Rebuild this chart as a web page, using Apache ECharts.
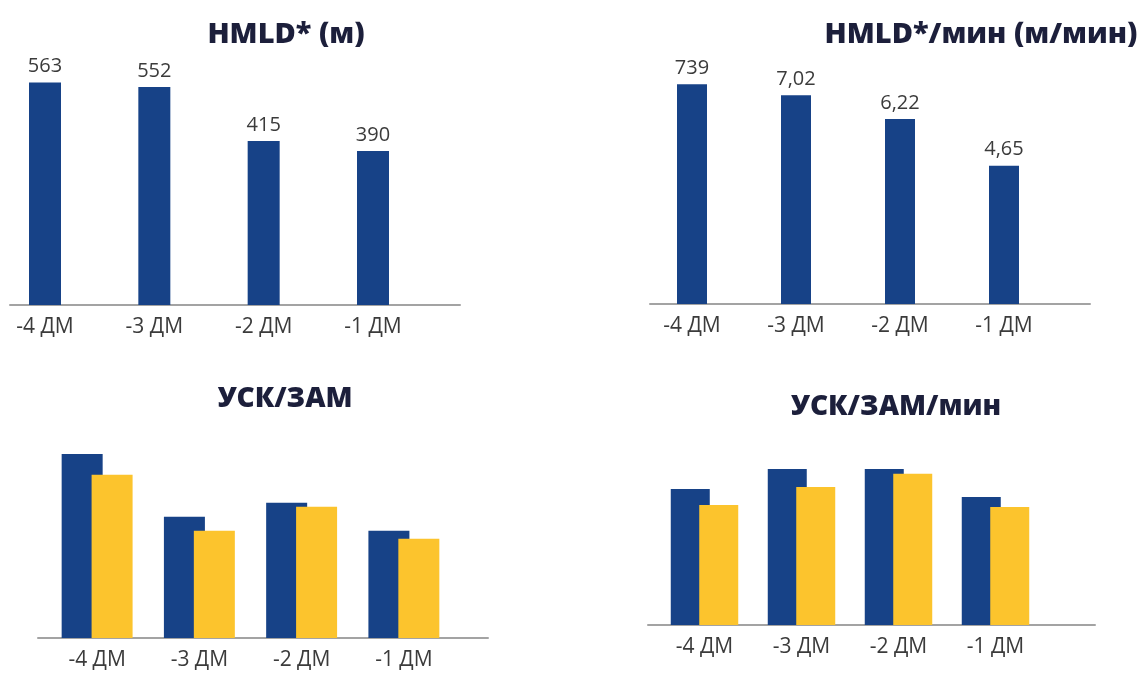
<!DOCTYPE html>
<html>
<head>
<meta charset="utf-8">
<script src="https://cdn.jsdelivr.net/npm/echarts@6/dist/echarts.min.js"></script>
<style>
  html, body { margin: 0; padding: 0; background: #ffffff; }
  #chart { width: 1143px; height: 674px; }
</style>
</head>
<body>
<div id="chart"></div>
<script>
// Match-day categories (days before the match)
const categories = ['-4 ДМ', '-3 ДМ', '-2 ДМ', '-1 ДМ'];

// HMLD* distance, metres
const hmldValues = [563, 552, 415, 390];

// HMLD* per minute, m/min, with the labels as printed
const hmldPerMinValues = [7.39, 7.02, 6.22, 4.65];
const hmldPerMinLabels = ['739', '7,02', '6,22', '4,65'];

// Accelerations / decelerations (relative units)
const accelValues = [46, 30.3, 33.8, 26.8];
const decelValues = [40.8, 26.8, 32.8, 24.8];

// Accelerations / decelerations per minute (relative units)
const accelPerMinValues = [34, 39, 39, 32];
const decelPerMinValues = [30, 34.5, 37.8, 29.5];

const titles = ['HMLD* (м)', 'HMLD*/мин (м/мин)', 'УСК/ЗАМ', 'УСК/ЗАМ/мин'];

const BLUE = '#174287';
const YELLOW = '#fcc42d';
const TEXT = '#3b3b3b';
const TITLE = '#1c1f3b';
const AXIS = '#a3a3a3';
const FONT = '"Open Sans", sans-serif';

const H = 674;

// Plot areas for the bars and separate strips for the baselines.
// The first panel puts its categories on the grid edges (boundaryGap off).
const barGrids = [
  { left: 45,  width: 328, top: 68,  bottom: H - 305, edge: true },
  { left: 640, width: 416, top: 66,  bottom: H - 304 },
  { left: 46,  width: 409, top: 438, bottom: H - 638 },
  { left: 656, width: 388, top: 425, bottom: H - 625 }
];
const lineGrids = [
  { left: 10,  width: 450, top: 200, bottom: H - 305 },
  { left: 650, width: 440, top: 200, bottom: H - 304 },
  { left: 38,  width: 450, top: 500, bottom: H - 638 },
  { left: 648, width: 447, top: 500, bottom: H - 625 }
];
const yMax = [600, 8, 50, 50];

const grid = [];
const xAxis = [];
const yAxis = [];

barGrids.forEach((g, i) => {
  grid.push({ left: g.left, width: g.width, top: g.top, bottom: g.bottom, containLabel: false });
  xAxis.push({
    type: 'category', gridIndex: i, data: categories,
    boundaryGap: !g.edge,
    axisLine: { show: false }, axisTick: { show: false },
    axisLabel: { color: TEXT, fontFamily: FONT, fontSize: 21, margin: 12 }
  });
  yAxis.push({
    type: 'value', gridIndex: i, min: 0, max: yMax[i],
    show: false, splitLine: { show: false }
  });
});
lineGrids.forEach((g, i) => {
  grid.push(Object.assign({ containLabel: false }, g));
  xAxis.push({
    type: 'category', gridIndex: 4 + i, data: [''],
    axisLine: { show: true, lineStyle: { color: AXIS, width: 2 } },
    axisTick: { show: false }, axisLabel: { show: false }
  });
  yAxis.push({ type: 'value', gridIndex: 4 + i, show: false, splitLine: { show: false } });
});

const valueLabel = {
  show: true, position: 'top', distance: 6,
  color: TEXT, fontFamily: FONT, fontSize: 20
};

const series = [
  {
    type: 'bar', xAxisIndex: 0, yAxisIndex: 0, data: hmldValues,
    barWidth: 32, clip: false, itemStyle: { color: BLUE },
    label: valueLabel
  },
  {
    type: 'bar', xAxisIndex: 1, yAxisIndex: 1, data: hmldPerMinValues,
    barWidth: 30, itemStyle: { color: BLUE },
    label: Object.assign({}, valueLabel, {
      formatter: p => hmldPerMinLabels[p.dataIndex]
    })
  },
  {
    type: 'bar', xAxisIndex: 2, yAxisIndex: 2, data: accelValues,
    barWidth: 41, itemStyle: { color: BLUE }
  },
  {
    type: 'bar', xAxisIndex: 2, yAxisIndex: 2, data: decelValues,
    barWidth: 41, barGap: '-27%', itemStyle: { color: YELLOW }
  },
  {
    type: 'bar', xAxisIndex: 3, yAxisIndex: 3, data: accelPerMinValues,
    barWidth: 39, itemStyle: { color: BLUE }
  },
  {
    type: 'bar', xAxisIndex: 3, yAxisIndex: 3, data: decelPerMinValues,
    barWidth: 39, barGap: '-27%', itemStyle: { color: YELLOW }
  }
];

const titlePos = [
  { left: 281, top: 15, size: 29 },
  { left: 976, top: 15, size: 29 },
  { left: 280, top: 380, size: 28 },
  { left: 891, top: 388, size: 28 }
];
const title = titles.map((t, i) => ({
  text: t, left: titlePos[i].left, top: titlePos[i].top, textAlign: 'center',
  textStyle: { color: TITLE, fontFamily: FONT, fontSize: titlePos[i].size, fontWeight: 800 }
}));

const chart = echarts.init(document.getElementById('chart'), null, { renderer: 'canvas' });
chart.setOption({
  backgroundColor: '#ffffff',
  animation: false,
  title, grid, xAxis, yAxis, series
});
</script>
</body>
</html>
